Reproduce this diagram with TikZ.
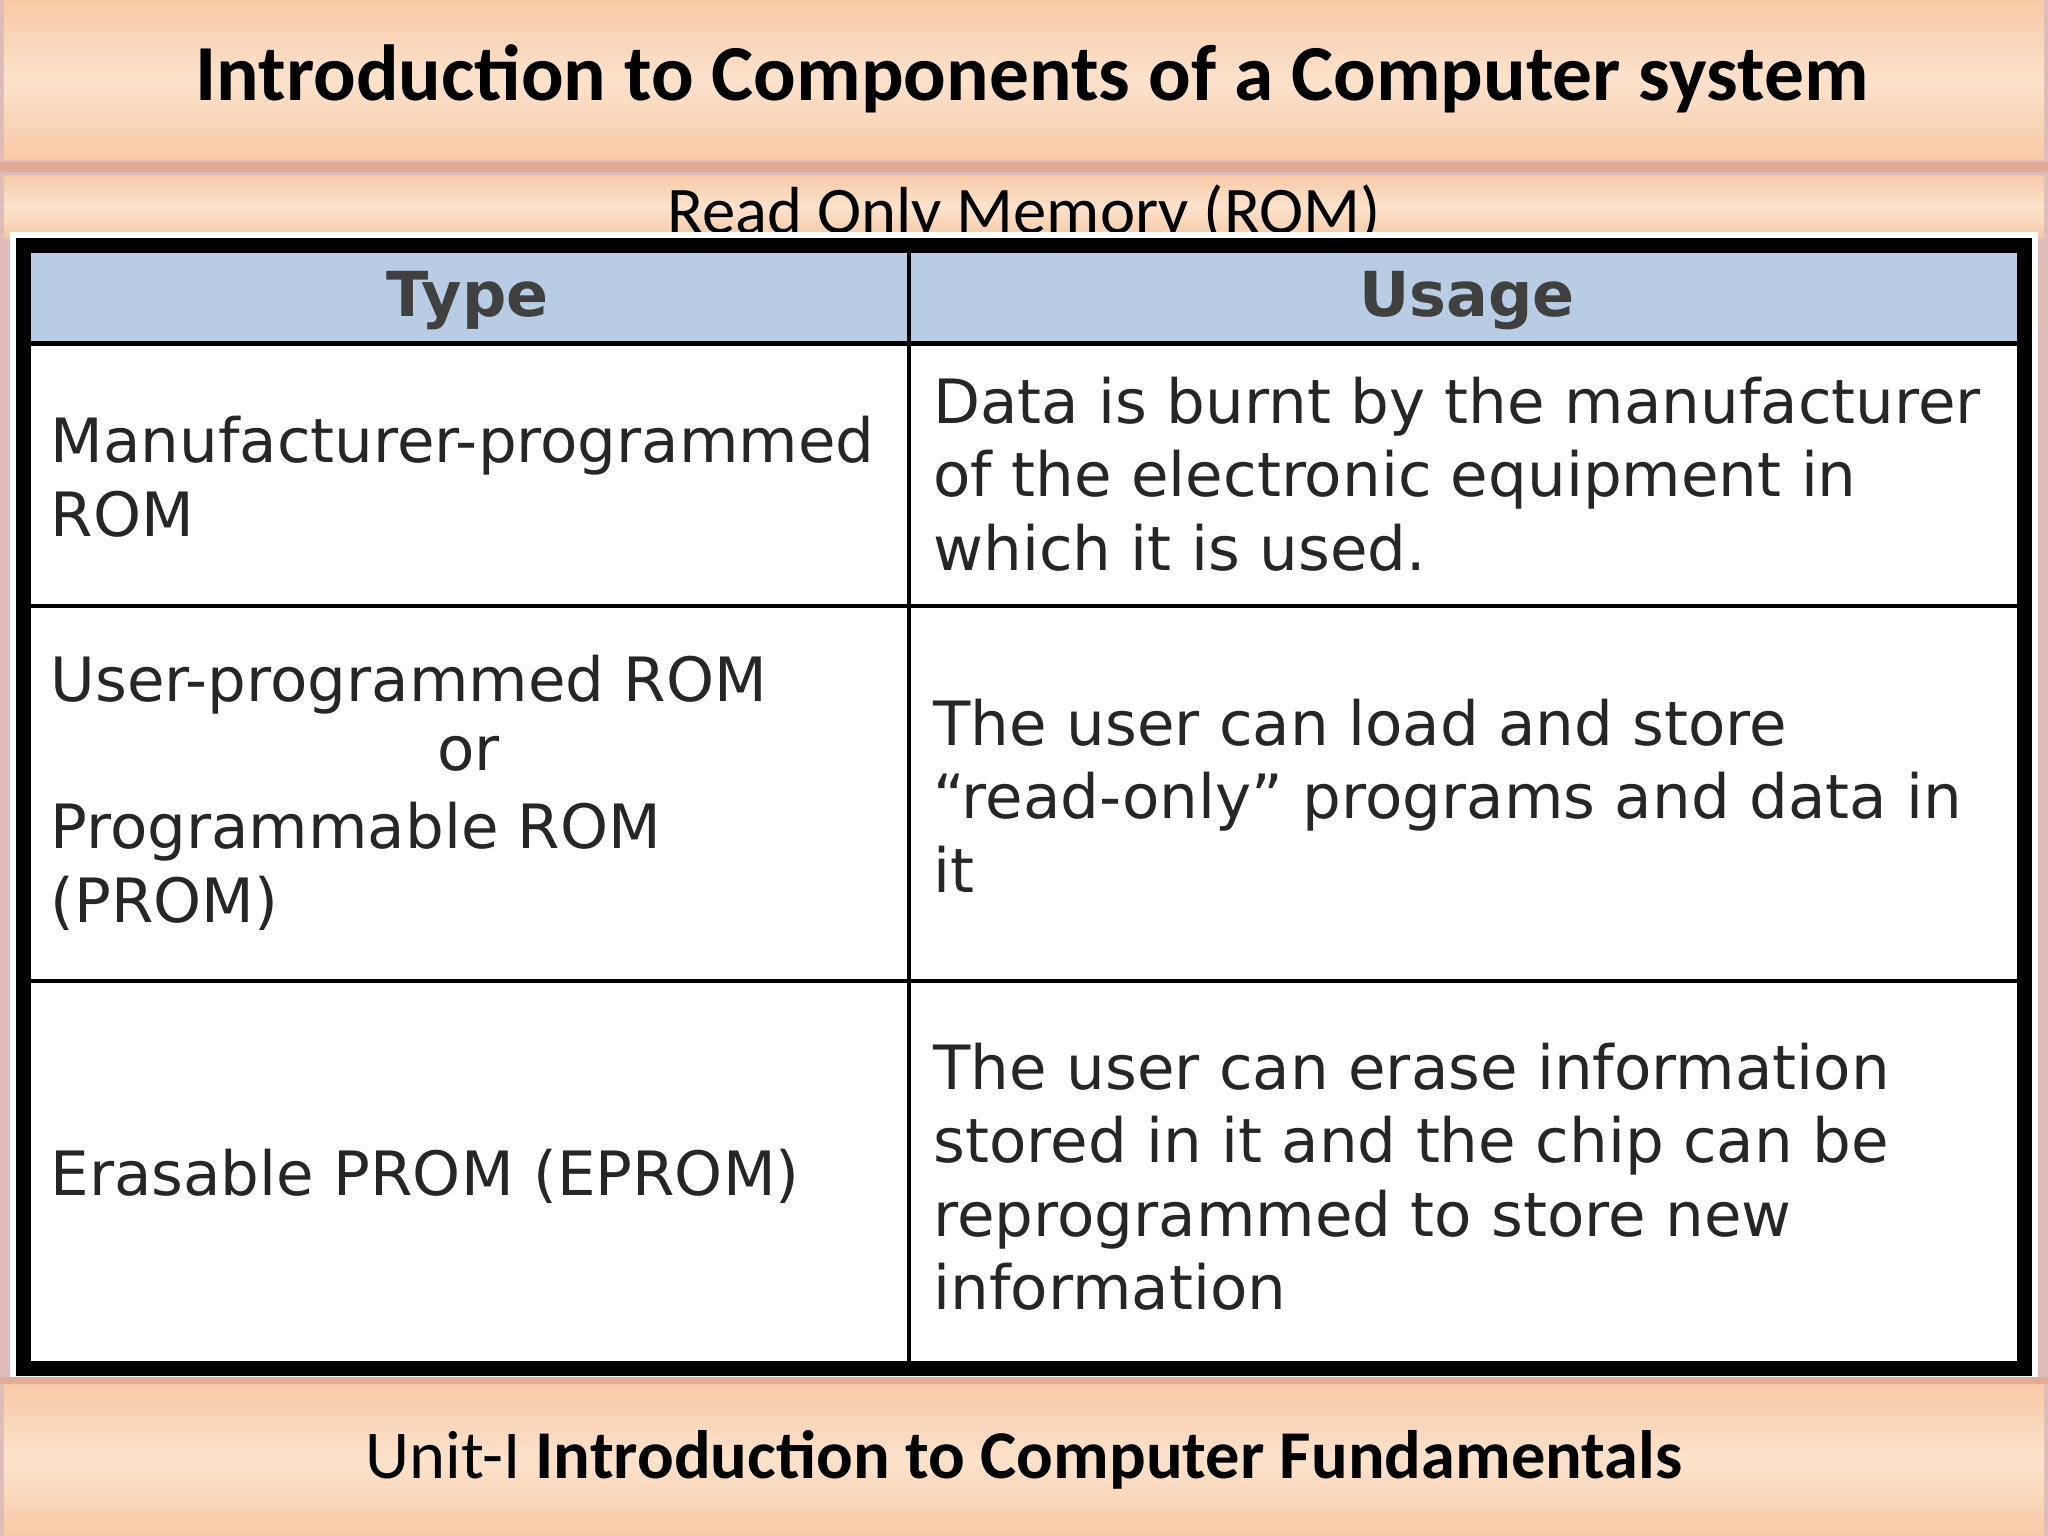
\documentclass[tikz,border=0pt]{standalone}
\usepackage{fontspec}
\setmainfont{Carlito}
\newfontfamily\verd{DejaVu Sans}
\definecolor{peach}{HTML}{F7C9A6}
\definecolor{peachl}{HTML}{FCE2CC}
\definecolor{hdr}{HTML}{B8CCE4}
\definecolor{edge}{HTML}{C98F8A}
\tikzset{
 band/.style={top color=peach, bottom color=peach, middle color=peachl, draw=none},
 cell/.style={font=\verd\fontsize{13.3}{16}\selectfont, text=black!85, align=left, anchor=west, inner sep=0},
 hd/.style={font=\verd\bfseries\fontsize{13.5}{16}\selectfont, text=black!75, inner sep=0}
}
\begin{document}
\begin{tikzpicture}[x=0.01cm,y=-0.01cm]
\useasboundingbox (0,0) rectangle (1568,1176);
\fill[edge!60] (0,0) rectangle (1568,1176);
\shade[band] (3,0) rectangle (1565,122);
\fill[edge!50!peach] (0,124) rectangle (1568,132);
\shade[band] (3,134) rectangle (1565,182);
\node[font=\fontsize{14.5}{17}\selectfont] (sub) at (784,164) {Read Only Memory (ROM)};
\fill[white] (8,178) rectangle (1560,1056);
\shade[band] (3,1060) rectangle (1565,1176);
\fill[edge!50!peach] (0,1054) rectangle (1568,1060);
\node[font=\bfseries\fontsize{17.3}{20}\selectfont] (title) at (790,60) {Introduction to Components of a Computer system};
\node[font=\fontsize{14.9}{17}\selectfont] (foot) at (784,1118) {Unit-I \textbf{Introduction to Computer Fundamentals}};
% table
\fill[hdr] (20,191) rectangle (1548,263);
\draw[line width=0.9pt] (20,263) -- (1548,263) (20,464) -- (1548,464) (20,751) -- (1548,751) (696,191) -- (696,1046);
\draw[line width=3.2pt] (18,188) rectangle (1550,1048);
\node[hd] (h1) at (358,230) {Type};
\node[hd] (h2) at (1123,230) {Usage};
\node[cell] (a1) at (38,365) {Manufacturer-programmed\\ROM};
\node[cell] (b1) at (714,363) {Data is burnt by the manufacturer\\of the electronic equipment in\\which it is used.};
\node[cell] (a2) at (38,607) {User-programmed ROM\\\strut\\Programmable ROM\\(PROM)};
\node[cell] (or) at (334,577) {or};
\node[cell] (b2) at (714,609) {The user can load and store\\“read-only” programs and data in\\it};
\node[cell] (a3) at (38,901) {Erasable PROM (EPROM)};
\node[cell] (b3) at (714,901) {The user can erase information\\stored in it and the chip can be\\reprogrammed to store new\\information};
\end{tikzpicture}
\end{document}
